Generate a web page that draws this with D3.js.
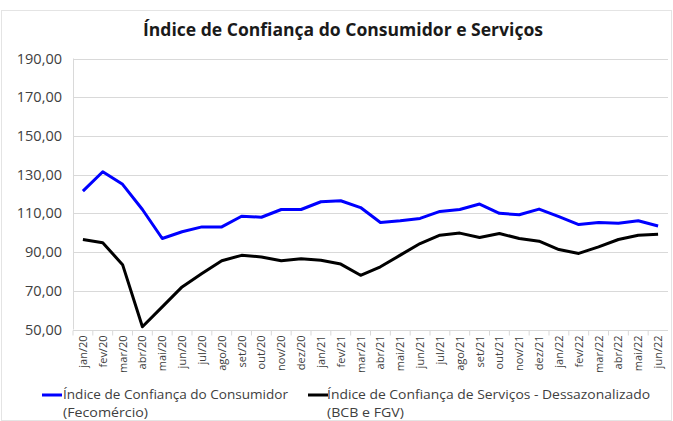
<!DOCTYPE html>
<html>
<head>
    <meta charset="utf-8">
    <script src="https://d3js.org/d3.v7.min.js"></script>
    <style>
        body { margin: 0; background: #fff; }
        svg { display: block; font-family: "Open Sans", "Noto Sans", sans-serif; }
    </style>
</head>
<body>
<div id="chart"></div>
<script>
    var months = [
        "jan/20", "fev/20", "mar/20", "abr/20", "mai/20", "jun/20", "jul/20", "ago/20", "set/20", "out/20", "nov/20", "dez/20",
        "jan/21", "fev/21", "mar/21", "abr/21", "mai/21", "jun/21", "jul/21", "ago/21", "set/21", "out/21", "nov/21", "dez/21",
        "jan/22", "fev/22", "mar/22", "abr/22", "mai/22", "jun/22"
    ];

    var consumidor = [
        121.5, 131.5, 125.0, 112.0, 97.0, 100.5, 103.0, 103.0, 108.5, 108.0, 112.0, 112.0,
        116.0, 116.5, 113.0, 105.3, 106.2, 107.4, 111.0, 112.0, 114.8, 110.0, 109.3, 112.2,
        108.3, 104.2, 105.3, 104.9, 106.2, 103.5
    ];

    var servicos = [
        96.5, 94.8, 83.5, 51.4, 61.7, 72.0, 78.9, 85.5, 88.3, 87.5, 85.5, 86.5,
        85.8, 83.8, 78.0, 82.4, 88.4, 94.4, 98.7, 99.8, 97.5, 99.6, 97.0, 95.6,
        91.3, 89.3, 92.7, 96.5, 98.7, 99.2
    ];

    var yTicks = [50, 70, 90, 110, 130, 150, 170, 190];

    var width = 673, height = 421;
    var left = 73, right = 668;

    var svg = d3.select("#chart").append("svg")
        .attr("width", width)
        .attr("height", height);

    // borda do gráfico
    svg.append("rect")
        .attr("x", 1.5).attr("y", 10.5)
        .attr("width", width - 3).attr("height", height - 11)
        .attr("fill", "none")
        .attr("stroke", "#e4e4e4");

    svg.append("text")
        .attr("x", 143)
        .attr("y", 36)
        .attr("textLength", 400)
        .attr("lengthAdjust", "spacingAndGlyphs")
        .style("font-size", "17px")
        .style("font-weight", "bold")
        .style("fill", "#1a1a1a")
        .text("Índice de Confiança do Consumidor e Serviços");

    var x = d3.scaleBand()
        .domain(months)
        .range([left, right]);

    var y = d3.scaleLinear()
        .domain([50, 190])
        .range([329.5, 58.5]);

    // grades
    svg.append("g")
        .selectAll("line")
        .data(yTicks.slice(1))
        .enter().append("line")
        .attr("x1", left).attr("x2", right)
        .attr("y1", function(d) { return Math.round(y(d)) + 0.5; })
        .attr("y2", function(d) { return Math.round(y(d)) + 0.5; })
        .attr("stroke", "#d9d9d9");

    svg.append("line")
        .attr("x1", left + 0.5).attr("x2", left + 0.5)
        .attr("y1", y(190)).attr("y2", y(50))
        .attr("stroke", "#d9d9d9");

    // eixo y
    svg.append("g")
        .selectAll("text")
        .data(yTicks)
        .enter().append("text")
        .attr("x", 62)
        .attr("y", function(d) { return y(d) + 5; })
        .attr("text-anchor", "end")
        .style("font-size", "14.5px")
        .style("fill", "#404040")
        .text(function(d) { return d3.format(".2f")(d).replace(".", ","); });

    // eixo x
    var xAxis = svg.append("g")
        .attr("transform", "translate(0," + (Math.round(y(50)) + 0.5) + ")");

    xAxis.append("line")
        .attr("x1", left).attr("x2", right)
        .attr("stroke", "#d9d9d9");

    xAxis.selectAll(".tk")
        .data(months)
        .enter().append("line")
        .attr("class", "tk")
        .attr("x1", function(d) { return x(d); })
        .attr("x2", function(d) { return x(d); })
        .attr("y1", 0).attr("y2", 5)
        .attr("stroke", "#d9d9d9");

    xAxis.selectAll("text")
        .data(months)
        .enter().append("text")
        .attr("transform", function(d) {
            return "translate(" + (x(d) + x.bandwidth() / 2 + 4) + ",5) rotate(-90)";
        })
        .attr("text-anchor", "end")
        .style("font-size", "11px")
        .style("fill", "#404040")
        .text(function(d) { return d; });

    var line = d3.line()
        .x(function(d, i) { return x(months[i]) + x.bandwidth() / 2; })
        .y(function(d) { return y(d); });

    svg.append("path")
        .datum(servicos)
        .attr("d", line)
        .attr("fill", "none")
        .attr("stroke", "#000")
        .attr("stroke-width", 3)
        .attr("stroke-linejoin", "round");

    svg.append("path")
        .datum(consumidor)
        .attr("d", line)
        .attr("fill", "none")
        .attr("stroke", "#0000ff")
        .attr("stroke-width", 3)
        .attr("stroke-linejoin", "round");

    // legenda
    var legend = [
        { color: "#0000ff", x: 42, tx: 63, lines: ["Índice de Confiança do Consumidor", "(Fecomércio)"], len: [225, 85] },
        { color: "#000", x: 308, tx: 327, lines: ["Índice de Confiança de Serviços - Dessazonalizado", "(BCB e FGV)"], len: [323, 77] }
    ];

    var lg = svg.append("g").selectAll("g")
        .data(legend)
        .enter().append("g");

    lg.append("line")
        .attr("x1", function(d) { return d.x; })
        .attr("x2", function(d) { return d.x + 20; })
        .attr("y1", 395).attr("y2", 395)
        .attr("stroke", function(d) { return d.color; })
        .attr("stroke-width", 3);

    lg.each(function(d) {
        var g = d3.select(this);
        d.lines.forEach(function(s, i) {
            g.append("text")
                .attr("x", d.tx)
                .attr("y", 399 + i * 17.5)
                .attr("textLength", d.len[i])
                .attr("lengthAdjust", "spacingAndGlyphs")
                .style("font-size", "13.5px")
                .style("fill", "#404040")
                .text(s);
        });
    });
</script>
</body>
</html>
